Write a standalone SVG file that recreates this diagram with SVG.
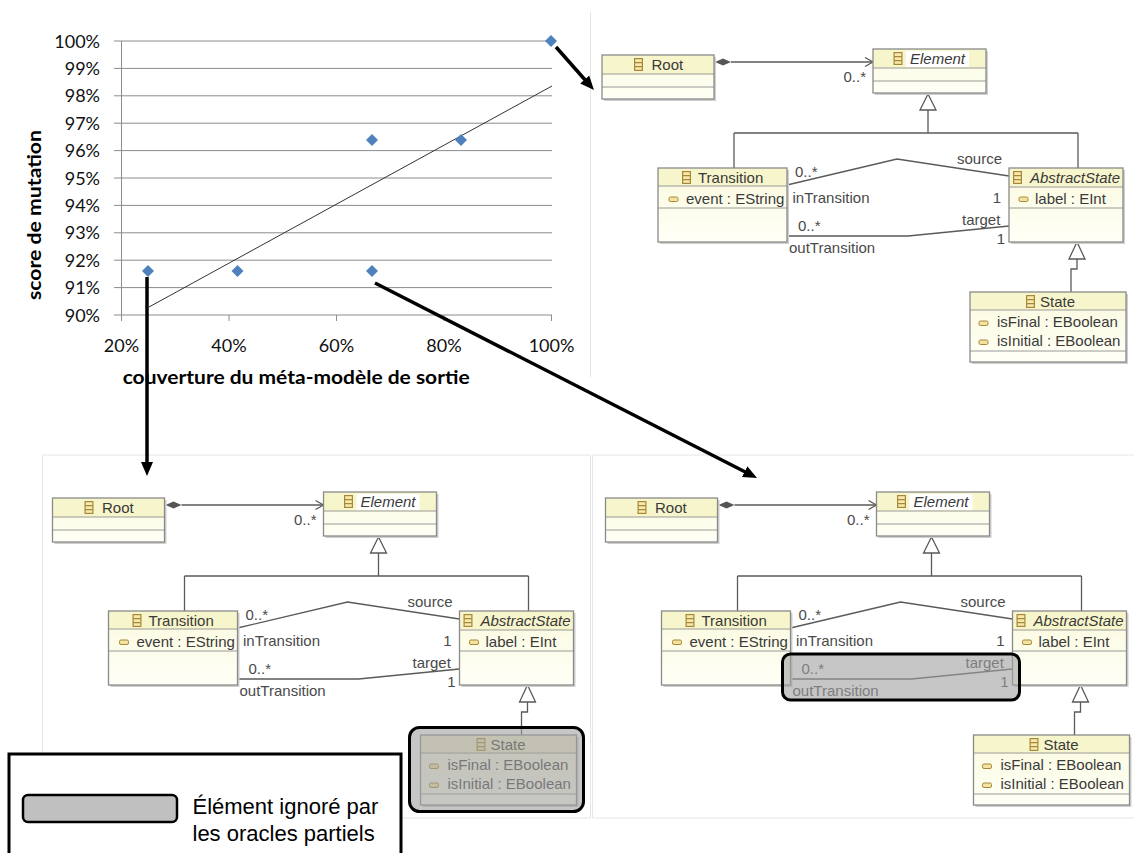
<svg xmlns="http://www.w3.org/2000/svg" xmlns:xlink="http://www.w3.org/1999/xlink" width="1134" height="853" viewBox="0 0 1134 853">
<style>
.grid{stroke:#8c8c8c;stroke-width:1;fill:none}
.tick{font-family:Lato,"Open Sans",sans-serif;font-size:18px;fill:#111}
.atitle{font-family:Lato,"Open Sans",sans-serif;font-weight:bold;font-size:18px;fill:#000}
.pt{fill:#4f81bd}
.trend{stroke:#333;stroke-width:1;fill:none}
.big{stroke:#000;stroke-width:3.5;fill:none;marker-end:url(#ah)}
.shd{fill:#cfcfcf}
.bd{fill:url(#bg)}
.hd{fill:#f7f5cc}
.ln{stroke:#9a9a9a;stroke-width:1;fill:none}
.bo{fill:none;stroke:#8a8a8a;stroke-width:1.3}
.t{font-family:"Liberation Sans",Arial,sans-serif;font-size:15px;fill:#3a3a3a}
.it{font-style:italic}
.lb{font-family:"Liberation Sans",Arial,sans-serif;font-size:15px;fill:#4a4a4a}
.cn{stroke:#5a5a5a;stroke-width:1.3;fill:none}
.gen{fill:#fff;stroke:#5a5a5a;stroke-width:1.3}
.dia{fill:#555}
.ov{fill:#a0a0a0;fill-opacity:0.6;stroke:#000;stroke-width:3}
.pb{stroke:#e6e6e6;stroke-width:1;fill:none}
.leg{font-family:"Liberation Sans",Arial,sans-serif;font-size:22px;fill:#000}
</style>
<defs>
<linearGradient id="bg" x1="0" y1="0" x2="0" y2="1">
<stop offset="0" stop-color="#fafade"/>
<stop offset="1" stop-color="#fffff7"/>
</linearGradient>
<g id="ci"><rect x="0.6" y="0.6" width="7.8" height="11.8" fill="#f6e9ad" stroke="#a88838" stroke-width="1.2"/><path d="M0.6 4.6H8.4M0.6 8.6H8.4" stroke="#a88838" stroke-width="1.2"/></g>
<g id="ai"><rect x="0" y="0" width="9" height="4.5" rx="1.5" fill="#f3e3a0" stroke="#a88838" stroke-width="1"/></g>
<marker id="ah" markerUnits="userSpaceOnUse" markerWidth="15" markerHeight="12" refX="8" refY="6" orient="auto"><path d="M0,0 L14,6 L0,12 z" fill="#000"/></marker>
</defs>
<rect width="1134" height="853" fill="#fff"/>

<!-- panel borders -->
<g id="panel-borders">
<path class="pb" d="M590.5 12V377"/>
<path class="pb" d="M42.5 455H590.5V818H42.5Z"/>
<path class="pb" d="M592.5 455H1134M592.5 455V818H1134"/>
</g>

<!-- chart -->
<g id="chart">
<path class="grid" d="M114 41H552M114 68.4H552M114 95.8H552M114 123.2H552M114 150.6H552M114 178H552M114 205.4H552M114 232.8H552M114 260.2H552M114 287.6H552M114 315H552"/>
<path class="grid" d="M121.5 41V321M229 315V321M336.5 315V321M444 315V321M551.5 315V321"/>
<g class="tick" text-anchor="end">
<text x="100" y="47.5">100%</text>
<text x="100" y="74.9">99%</text>
<text x="100" y="102.3">98%</text>
<text x="100" y="129.7">97%</text>
<text x="100" y="157.1">96%</text>
<text x="100" y="184.5">95%</text>
<text x="100" y="211.9">94%</text>
<text x="100" y="239.3">93%</text>
<text x="100" y="266.7">92%</text>
<text x="100" y="294.1">91%</text>
<text x="100" y="321.5">90%</text>
</g>
<g class="tick" text-anchor="middle">
<text x="121.5" y="352">20%</text>
<text x="229" y="352">40%</text>
<text x="336.5" y="352">60%</text>
<text x="444" y="352">80%</text>
<text x="551.5" y="352">100%</text>
</g>
<text class="atitle" x="122.7" y="384" textLength="347" lengthAdjust="spacingAndGlyphs">couverture du méta-modèle de sortie</text>
<text class="atitle" transform="translate(40.5,215) rotate(-90)" text-anchor="middle" textLength="170" lengthAdjust="spacingAndGlyphs">score de mutation</text>
<path class="trend" d="M149 307L552 86"/>
<g id="points">
<path class="pt" d="M148 265L154 271L148 277L142 271Z"/>
<path class="pt" d="M237.5 265L243.5 271L237.5 277L231.5 271Z"/>
<path class="pt" d="M372 134L378 140L372 146L366 140Z"/>
<path class="pt" d="M372 265L378 271L372 277L366 271Z"/>
<path class="pt" d="M461 134L467 140L461 146L455 140Z"/>
<path class="pt" d="M551 35L557 41L551 47L545 41Z"/>
</g>
</g>

<!-- ===== top-right panel ===== -->
<g id="panel-tr">
<g id="tr-connectors">
<path class="cn" d="M731 62H873"/>
<path class="dia" d="M715 62L723 58.5L731 62L723 65.5Z"/>
<path class="cn" d="M865 57.5L873 62L865 66.5"/>
<path class="cn" d="M928 110V133M734 133H1078M734 133V168M1078 133V168"/>
<path class="gen" d="M928 94L920 110H936Z"/>
<path class="cn" d="M1077 259V269H1071V292"/>
<path class="gen" d="M1077 242L1069 259H1085Z"/>
<path class="cn" d="M787 185L897 159L1009 176"/>
<path class="cn" d="M787 236H908L1009 226"/>
<text class="lb" x="866" y="82" text-anchor="end">0..*</text>
<text class="lb" x="795" y="177">0..*</text>
<text class="lb" x="792.5" y="203">inTransition</text>
<text class="lb" x="957" y="164">source</text>
<text class="lb" x="1001" y="203" text-anchor="end">1</text>
<text class="lb" x="798" y="231">0..*</text>
<text class="lb" x="789" y="253">outTransition</text>
<text class="lb" x="962" y="225">target</text>
<text class="lb" x="1005" y="244" text-anchor="end">1</text>
</g>
<g id="tr-root">
<rect class="shd" x="604" y="57" width="112" height="44"/>
<rect class="bd" x="602" y="55" width="112" height="44"/>
<rect class="hd" x="602" y="55" width="112" height="19"/>
<path class="ln" d="M602 74H714M602 87H714"/>
<rect class="bo" x="602" y="55" width="112" height="44"/>
<use href="#ci" x="634" y="58"/>
<text class="t" x="651.5" y="70">Root</text>
</g>
<g id="tr-element">
<rect class="shd" x="875" y="51" width="113" height="44"/>
<rect class="bd" x="873" y="49" width="113" height="44"/>
<rect class="hd" x="873" y="49" width="113" height="19"/>
<rect x="906" y="51" width="63" height="16" fill="#fff"/>
<path class="ln" d="M873 68H986M873 81H986"/>
<rect class="bo" x="873" y="49" width="113" height="44"/>
<use href="#ci" x="893.5" y="52"/>
<text class="t it" x="910" y="64">Element</text>
</g>
<g id="tr-transition">
<rect class="shd" x="660" y="170" width="129" height="74"/>
<rect class="bd" x="658" y="168" width="129" height="74"/>
<rect class="hd" x="658" y="168" width="129" height="18"/>
<path class="ln" d="M658 186H787M658 208H787"/>
<rect class="bo" x="658" y="168" width="129" height="74"/>
<use href="#ci" x="682" y="171"/>
<text class="t" x="698" y="183">Transition</text>
<use href="#ai" x="669" y="197"/>
<text class="t" x="686" y="204">event : EString</text>
</g>
<g id="tr-abstractstate">
<rect class="shd" x="1011" y="170" width="114" height="74"/>
<rect class="bd" x="1009" y="168" width="114" height="74"/>
<rect class="hd" x="1009" y="168" width="114" height="19"/>
<path class="ln" d="M1009 187H1123M1009 208H1123"/>
<rect class="bo" x="1009" y="168" width="114" height="74"/>
<use href="#ci" x="1013" y="171"/>
<text class="t it" x="1030" y="183">AbstractState</text>
<use href="#ai" x="1019" y="197"/>
<text class="t" x="1035" y="204">label : EInt</text>
</g>
<g id="tr-state">
<rect class="shd" x="972" y="294" width="156" height="70"/>
<rect class="bd" x="970" y="292" width="156" height="70"/>
<rect class="hd" x="970" y="292" width="156" height="18"/>
<path class="ln" d="M970 310H1126M970 351H1126"/>
<rect class="bo" x="970" y="292" width="156" height="70"/>
<use href="#ci" x="1026" y="295"/>
<text class="t" x="1040" y="307">State</text>
<use href="#ai" x="979" y="321"/>
<text class="t" x="997" y="327">isFinal : EBoolean</text>
<use href="#ai" x="979" y="340"/>
<text class="t" x="997" y="346">isInitial : EBoolean</text>
</g>
</g>

<!-- ===== bottom-left panel ===== -->
<g id="panel-bl" transform="translate(-549.5,443)">
<g id="bl-connectors">
<path class="cn" d="M731 62H873"/>
<path class="dia" d="M715 62L723 58.5L731 62L723 65.5Z"/>
<path class="cn" d="M865 57.5L873 62L865 66.5"/>
<path class="cn" d="M928 110V133M734 133H1078M734 133V168M1078 133V168"/>
<path class="gen" d="M928 94L920 110H936Z"/>
<path class="cn" d="M1077 259V269H1071V292"/>
<path class="gen" d="M1077 242L1069 259H1085Z"/>
<path class="cn" d="M787 185L897 159L1009 176"/>
<path class="cn" d="M787 236H908L1009 226"/>
<text class="lb" x="866" y="82" text-anchor="end">0..*</text>
<text class="lb" x="795" y="177">0..*</text>
<text class="lb" x="792.5" y="203">inTransition</text>
<text class="lb" x="957" y="164">source</text>
<text class="lb" x="1001" y="203" text-anchor="end">1</text>
<text class="lb" x="798" y="231">0..*</text>
<text class="lb" x="789" y="253">outTransition</text>
<text class="lb" x="962" y="225">target</text>
<text class="lb" x="1005" y="244" text-anchor="end">1</text>
</g>
<g id="bl-root">
<rect class="shd" x="604" y="57" width="112" height="44"/>
<rect class="bd" x="602" y="55" width="112" height="44"/>
<rect class="hd" x="602" y="55" width="112" height="19"/>
<path class="ln" d="M602 74H714M602 87H714"/>
<rect class="bo" x="602" y="55" width="112" height="44"/>
<use href="#ci" x="634" y="58"/>
<text class="t" x="651.5" y="70">Root</text>
</g>
<g id="bl-element">
<rect class="shd" x="875" y="51" width="113" height="44"/>
<rect class="bd" x="873" y="49" width="113" height="44"/>
<rect class="hd" x="873" y="49" width="113" height="19"/>
<rect x="906" y="51" width="63" height="16" fill="#fff"/>
<path class="ln" d="M873 68H986M873 81H986"/>
<rect class="bo" x="873" y="49" width="113" height="44"/>
<use href="#ci" x="893.5" y="52"/>
<text class="t it" x="910" y="64">Element</text>
</g>
<g id="bl-transition">
<rect class="shd" x="660" y="170" width="129" height="74"/>
<rect class="bd" x="658" y="168" width="129" height="74"/>
<rect class="hd" x="658" y="168" width="129" height="18"/>
<path class="ln" d="M658 186H787M658 208H787"/>
<rect class="bo" x="658" y="168" width="129" height="74"/>
<use href="#ci" x="682" y="171"/>
<text class="t" x="698" y="183">Transition</text>
<use href="#ai" x="669" y="197"/>
<text class="t" x="686" y="204">event : EString</text>
</g>
<g id="bl-abstractstate">
<rect class="shd" x="1011" y="170" width="114" height="74"/>
<rect class="bd" x="1009" y="168" width="114" height="74"/>
<rect class="hd" x="1009" y="168" width="114" height="19"/>
<path class="ln" d="M1009 187H1123M1009 208H1123"/>
<rect class="bo" x="1009" y="168" width="114" height="74"/>
<use href="#ci" x="1013" y="171"/>
<text class="t it" x="1030" y="183">AbstractState</text>
<use href="#ai" x="1019" y="197"/>
<text class="t" x="1035" y="204">label : EInt</text>
</g>
<g id="bl-state">
<rect class="shd" x="972" y="294" width="156" height="70"/>
<rect class="bd" x="970" y="292" width="156" height="70"/>
<rect class="hd" x="970" y="292" width="156" height="18"/>
<path class="ln" d="M970 310H1126M970 351H1126"/>
<rect class="bo" x="970" y="292" width="156" height="70"/>
<use href="#ci" x="1026" y="295"/>
<text class="t" x="1040" y="307">State</text>
<use href="#ai" x="979" y="321"/>
<text class="t" x="997" y="327">isFinal : EBoolean</text>
<use href="#ai" x="979" y="340"/>
<text class="t" x="997" y="346">isInitial : EBoolean</text>
</g>
<g id="bl-highlight">
<rect class="ov" x="959" y="284.5" width="174" height="84" rx="10"/>
</g>
</g>

<!-- ===== bottom-right panel ===== -->
<g id="panel-br" transform="translate(3.5,443)">
<g id="br-connectors">
<path class="cn" d="M731 62H873"/>
<path class="dia" d="M715 62L723 58.5L731 62L723 65.5Z"/>
<path class="cn" d="M865 57.5L873 62L865 66.5"/>
<path class="cn" d="M928 110V133M734 133H1078M734 133V168M1078 133V168"/>
<path class="gen" d="M928 94L920 110H936Z"/>
<path class="cn" d="M1077 259V269H1071V292"/>
<path class="gen" d="M1077 242L1069 259H1085Z"/>
<path class="cn" d="M787 185L897 159L1009 176"/>
<path class="cn" d="M787 236H908L1009 226"/>
<text class="lb" x="866" y="82" text-anchor="end">0..*</text>
<text class="lb" x="795" y="177">0..*</text>
<text class="lb" x="792.5" y="203">inTransition</text>
<text class="lb" x="957" y="164">source</text>
<text class="lb" x="1001" y="203" text-anchor="end">1</text>
<text class="lb" x="798" y="231">0..*</text>
<text class="lb" x="789" y="253">outTransition</text>
<text class="lb" x="962" y="225">target</text>
<text class="lb" x="1005" y="244" text-anchor="end">1</text>
</g>
<g id="br-root">
<rect class="shd" x="604" y="57" width="112" height="44"/>
<rect class="bd" x="602" y="55" width="112" height="44"/>
<rect class="hd" x="602" y="55" width="112" height="19"/>
<path class="ln" d="M602 74H714M602 87H714"/>
<rect class="bo" x="602" y="55" width="112" height="44"/>
<use href="#ci" x="634" y="58"/>
<text class="t" x="651.5" y="70">Root</text>
</g>
<g id="br-element">
<rect class="shd" x="875" y="51" width="113" height="44"/>
<rect class="bd" x="873" y="49" width="113" height="44"/>
<rect class="hd" x="873" y="49" width="113" height="19"/>
<rect x="906" y="51" width="63" height="16" fill="#fff"/>
<path class="ln" d="M873 68H986M873 81H986"/>
<rect class="bo" x="873" y="49" width="113" height="44"/>
<use href="#ci" x="893.5" y="52"/>
<text class="t it" x="910" y="64">Element</text>
</g>
<g id="br-transition">
<rect class="shd" x="660" y="170" width="129" height="74"/>
<rect class="bd" x="658" y="168" width="129" height="74"/>
<rect class="hd" x="658" y="168" width="129" height="18"/>
<path class="ln" d="M658 186H787M658 208H787"/>
<rect class="bo" x="658" y="168" width="129" height="74"/>
<use href="#ci" x="682" y="171"/>
<text class="t" x="698" y="183">Transition</text>
<use href="#ai" x="669" y="197"/>
<text class="t" x="686" y="204">event : EString</text>
</g>
<g id="br-abstractstate">
<rect class="shd" x="1011" y="170" width="114" height="74"/>
<rect class="bd" x="1009" y="168" width="114" height="74"/>
<rect class="hd" x="1009" y="168" width="114" height="19"/>
<path class="ln" d="M1009 187H1123M1009 208H1123"/>
<rect class="bo" x="1009" y="168" width="114" height="74"/>
<use href="#ci" x="1013" y="171"/>
<text class="t it" x="1030" y="183">AbstractState</text>
<use href="#ai" x="1019" y="197"/>
<text class="t" x="1035" y="204">label : EInt</text>
</g>
<g id="br-state">
<rect class="shd" x="972" y="294" width="156" height="70"/>
<rect class="bd" x="970" y="292" width="156" height="70"/>
<rect class="hd" x="970" y="292" width="156" height="18"/>
<path class="ln" d="M970 310H1126M970 351H1126"/>
<rect class="bo" x="970" y="292" width="156" height="70"/>
<use href="#ci" x="1026" y="295"/>
<text class="t" x="1040" y="307">State</text>
<use href="#ai" x="979" y="321"/>
<text class="t" x="997" y="327">isFinal : EBoolean</text>
<use href="#ai" x="979" y="340"/>
<text class="t" x="997" y="346">isInitial : EBoolean</text>
</g>
<g id="br-highlight">
<rect class="ov" x="779" y="211" width="237" height="46" rx="8"/>
</g>
</g>

<!-- big arrows -->
<g id="arrows">
<path class="big" d="M556 47L590 85.5"/>
<path class="big" d="M147 277V470"/>
<path class="big" d="M375 283L751.7 475.3"/>
</g>

<!-- legend -->
<g id="legend">
<rect x="9" y="754" width="392" height="110" fill="#fff" stroke="#000" stroke-width="3"/>
<rect x="23" y="795" width="154" height="27" rx="5" fill="#c0c0c0" stroke="#000" stroke-width="2.5"/>
<text class="leg" x="192.5" y="814">Élément ignoré par</text>
<text class="leg" x="192.5" y="841">les oracles partiels</text>
</g>
</svg>
